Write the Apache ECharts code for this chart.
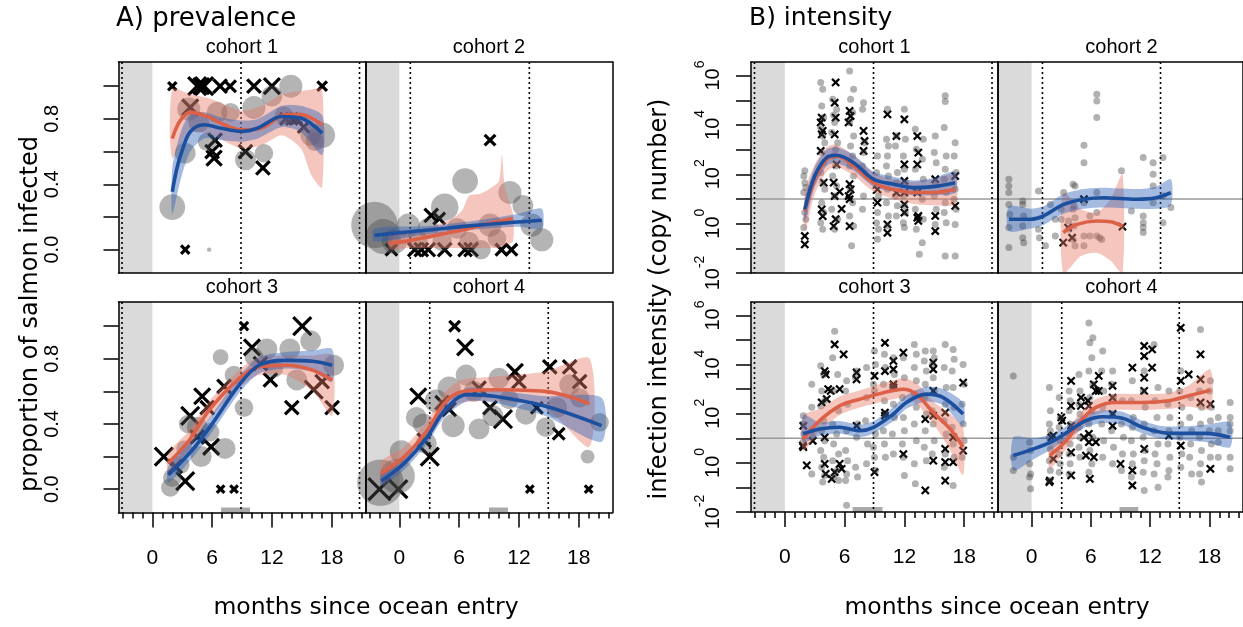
<!DOCTYPE html>
<html><head><meta charset="utf-8">
<script src="https://cdn.jsdelivr.net/npm/echarts@6/dist/echarts.min.js"></script>
<style>html,body{margin:0;padding:0;background:#fff}#c{width:1243px;height:627px}</style>
</head><body><div id="c"></div>
<script>
// ---------------- DATA ----------------
const xMajorTicks = [0, 6, 12, 18];
const xMinorTicks = [-3,-2,-1,0,1,2,3,4,5,6,7,8,9,10,11,12,13,14,15,16,17,18,19,20,21];
const prevTicks = [0, 0.2, 0.4, 0.6, 0.8, 1.0];
const prevTickLabels = [0, 0.4, 0.8];
const intTicks = [-2,-1,0,1,2,3,4,5,6];          // log10 copy number
const intTickLabels = [-2, 0, 2, 4, 6];
const intRefLine = 1;                              // log10 reference line (10^1)

// vertical dotted lines (months) and sampling bars (months)
const c1Vlines = [-3.05, 8.9, 20.8];
const c2Vlines = [1.1, 13.05];
const c3Vlines = [-3.05, 8.9, 20.8];
const c4Vlines = [3.05, 14.95];
const prevC3Bar = [6.9, 9.8];
const prevC4Bar = [9.0, 10.9];
const intC3Bar = [6.8, 9.8];
const intC4Bar = [8.9, 10.8];

// ---- A) prevalence: [month, proportion, n]
const prevC1Bubbles = [[2.0,0.26,21],[13.9,1.0,17],[12.0,0.94,14],[10.2,0.87,17],[3.65,0.86,17],[6.5,0.84,14],[7.85,0.84,11],[4.65,0.78,14],[3.3,0.59,14],[5.5,0.66,11],[9.35,0.55,14],[11.2,0.59,11],[13.2,0.82,11],[15.9,0.70,14],[17.05,0.70,21],[16.3,0.66,11],[5.7,0.0,0.6]];
const prevC1Crosses = [[2.0,1.0,3],[4.5,1.0,14],[5.2,1.0,14],[4.9,1.0,11],[6.8,1.0,8],[7.8,1.0,6],[10.2,1.0,8],[12.0,1.0,11],[17.05,1.0,4],[3.8,0.87,11],[6.3,0.67,8],[6.0,0.6,8],[6.2,0.56,10],[9.35,0.6,8],[11.1,0.5,8],[13.4,0.8,6],[14.0,0.8,6],[14.5,0.8,5],[15.2,0.75,6],[3.3,0.0,3]];
const prevC1Red = [[2.0,0.68],[2.8,0.79],[3.8,0.84],[5.5,0.815],[7,0.77],[8.9,0.733],[11,0.745],[13.4,0.826],[14.9,0.826],[17.05,0.764]];
const prevC1RedBand = [[2.0,0.56,0.98],[3.8,0.72,0.95],[6,0.7,0.92],[8.9,0.62,0.85],[11,0.64,0.88],[13,0.7,0.95],[14.9,0.62,0.97],[16,0.45,0.98],[17.05,0.38,0.98]];
const prevC1Blue = [[2.0,0.354],[2.4,0.48],[2.85,0.58],[3.8,0.72],[5.2,0.764],[6.8,0.744],[8.9,0.723],[10.6,0.744],[13,0.815],[14.9,0.805],[17.05,0.713]];
const prevC1BlueBand = [[2.0,0.22,0.5],[2.85,0.43,0.72],[3.8,0.6,0.83],[5.2,0.68,0.84],[6.8,0.67,0.81],[8.9,0.66,0.79],[10.6,0.68,0.8],[13,0.75,0.88],[14.9,0.72,0.88],[17.05,0.58,0.82]];

const prevC2Bubbles = [[-2.5,0.15,69],[-1.6,0.08,39],[0.9,0.15,17],[4.55,0.26,24],[6.6,0.42,21],[9.1,0.15,17],[11.1,0.35,17],[12.4,0.27,14],[13.3,0.15,17],[14.3,0.06,17],[8.2,0.0,12],[5.8,0.13,14],[2.9,0.13,14],[4.3,0.05,12],[9.8,0.07,11],[-0.5,0.05,20],[1.8,0.06,14],[7.0,0.05,12]];
const prevC2Crosses = [[9.1,0.67,5],[3.2,0.21,8],[4.0,0.19,6],[-0.8,0.0,6],[1.55,0.0,8],[2.2,0.0,8],[2.9,0.0,8],[4.55,0.0,8],[6.6,0.0,8],[7.2,0.0,8],[10.25,0.0,6],[11.25,0.0,6]];
const prevC2Red = [[-1.0,0.037],[1,0.055],[2.9,0.078],[6.3,0.12],[9.0,0.16],[11.4,0.19]];
const prevC2RedBand = [[-1.0,0.005,0.09],[1,0.01,0.1],[3,0.01,0.14],[5,0.01,0.18],[6.3,0.01,0.24],[7,0.01,0.33],[8,0.01,0.34],[9,0.01,0.37],[10,0.01,0.42],[10.3,0.02,0.58],[10.6,0.03,0.38],[11.4,0.05,0.22]];
const prevC2Blue = [[-2.5,0.088],[2.9,0.12],[7.9,0.15],[14.3,0.18]];
const prevC2BlueBand = [[-2.5,0.05,0.13],[2.9,0.095,0.145],[7.9,0.125,0.18],[12,0.14,0.22],[14.3,0.13,0.25]];

const prevC3Bubbles = [[1.8,0.01,11],[2.0,0.07,11],[3.6,0.40,11],[4.5,0.38,14],[5.8,0.35,11],[7.3,0.25,14],[4.9,0.2,14],[6.85,0.81,8],[8.2,0.70,11],[9.2,0.50,11],[11.5,0.86,14],[13.8,0.86,14],[15.9,0.91,14],[18.2,0.76,14],[14.5,0.67,14],[12.2,0.74,11],[10.2,0.81,11],[2.8,0.15,11],[3.2,0.25,8]];
const prevC3Crosses = [[9.2,1.0,3],[15.05,1.0,14],[10.0,0.87,11],[10.85,0.77,8],[11.85,0.67,8],[7.2,0.63,8],[5.0,0.57,11],[3.8,0.45,14],[5.5,0.5,8],[5.9,0.26,11],[4.5,0.32,8],[1.15,0.2,14],[3.3,0.05,14],[2.3,0.14,8],[6.85,0.0,2.5],[8.2,0.0,2.5],[14.0,0.5,8],[16.2,0.61,14],[17.05,0.66,8],[18.05,0.5,8]];
const prevC3Red = [[1.6,0.16],[3.7,0.30],[5.7,0.485],[8.7,0.678],[10.7,0.75],[13.4,0.76],[16.1,0.73],[18.05,0.668]];
const prevC3RedBand = [[1.6,0.10,0.22],[3.7,0.25,0.36],[5.7,0.43,0.54],[8.7,0.62,0.73],[10.7,0.70,0.81],[13.4,0.70,0.82],[16.1,0.60,0.82],[18.05,0.45,0.82]];
const prevC3Blue = [[1.6,0.087],[4.0,0.24],[6.0,0.40],[8.7,0.638],[10.7,0.76],[13.4,0.79],[16.1,0.785],[18.05,0.76]];
const prevC3BlueBand = [[1.6,0.04,0.14],[4,0.19,0.30],[6,0.35,0.46],[8.7,0.59,0.69],[10.7,0.71,0.81],[13.4,0.74,0.84],[16.1,0.72,0.85],[18.05,0.66,0.86]];

const prevC4Bubbles = [[-1.9,0.04,69],[-0.2,0.08,39],[0.2,0.23,17],[2.4,0.40,14],[1.7,0.44,14],[3.7,0.54,17],[5.0,0.62,17],[6.7,0.70,14],[5.4,0.39,17],[8.0,0.37,14],[9.4,0.45,14],[10.0,0.68,14],[12.7,0.46,14],[14.7,0.38,12],[17.1,0.64,14],[18.1,0.56,12],[18.9,0.2,6],[20.1,0.41,11],[15.8,0.50,14],[2.7,0.28,14],[7.5,0.6,14],[11.0,0.55,12]];
const prevC4Crosses = [[5.55,1.0,5],[6.6,0.87,11],[1.9,0.57,11],[3.05,0.2,14],[-2.0,0.0,21],[-0.1,0.0,14],[11.6,0.72,11],[12.0,0.66,8],[15.1,0.75,8],[17.1,0.75,8],[18.1,0.66,8],[10.4,0.43,14],[9.1,0.5,8],[16.0,0.34,6],[13.1,0.0,2.5],[19.0,0.0,2.5],[13.8,0.5,6],[4.3,0.53,8],[5.0,0.49,8],[8.0,0.62,8],[2.5,0.3,8]];
const prevC4Red = [[-1.8,0.098],[0.5,0.2],[2.8,0.36],[4.5,0.525],[6.2,0.597],[9.5,0.61],[14.6,0.60],[19.1,0.525]];
const prevC4RedBand = [[-1.8,0.03,0.17],[0.5,0.14,0.26],[2.8,0.30,0.42],[4.5,0.46,0.59],[6.2,0.53,0.67],[9.5,0.54,0.69],[14.6,0.50,0.72],[19.1,0.26,0.80]];
const prevC4Blue = [[-1.8,0.05],[0.5,0.16],[2.8,0.32],[4.5,0.48],[6.8,0.58],[9.5,0.57],[14.6,0.51],[20.3,0.39]];
const prevC4BlueBand = [[-1.8,0.02,0.09],[0.5,0.12,0.2],[2.8,0.28,0.36],[4.5,0.44,0.52],[6.8,0.54,0.62],[9.5,0.53,0.61],[14.6,0.45,0.57],[20.3,0.29,0.56]];

// ---- B) intensity: [month, log10(copy number)]
const intC1Dots = [[2.0,2.14],[1.9,1.93],[2.0,1.66],[2.1,1.46],[1.9,1.26],[2.0,0.45],[2.1,0.18],[1.9,-0.16],
[3.6,5.72],[3.8,5.45],[3.7,4.77],[3.9,4.3],[3.6,3.9],[3.8,3.55],[4.0,3.28],[3.7,2.88],[3.9,2.47],[3.6,2.07],[3.8,1.66],[4.0,1.39],[3.7,0.85],[3.9,0.45],[3.6,0.04],[3.8,-0.23],
[4.8,5.04],[5.2,4.64],[5.0,4.1],[4.7,3.69],[5.3,3.28],[4.9,2.74],[5.1,2.34],[4.8,1.93],[5.2,1.53],[5.0,1.12],[4.7,0.58],[5.3,0.18],[5.0,-0.23],[4.9,4.4],[5.1,3.0],
[6.5,6.19],[6.9,5.45],[6.6,5.04],[6.8,4.5],[6.5,4.1],[6.9,3.55],[6.6,3.15],[6.8,2.74],[6.5,2.34],[6.9,1.93],[6.6,1.39],[6.8,0.85],[6.5,0.31],[6.9,-0.1],[6.7,-0.9],
[7.9,4.9],[7.8,4.64],[8.0,3.28],[7.9,2.88],[7.8,2.34],[8.0,2.07],[7.9,1.12],[7.8,0.58],
[9.3,2.74],[9.2,2.07],[9.4,1.12],[9.3,0.45],[9.2,0.04],[9.4,-0.23],[9.3,-0.63],
[10.3,4.64],[10.2,3.42],[10.4,3.15],[10.3,2.74],[10.2,2.34],[10.4,1.93],[10.3,1.39],[10.2,0.85],[10.4,0.31],[10.3,-0.1],
[11.2,3.55],[11.1,3.15],[11.3,2.07],[11.2,1.66],[11.1,1.12],[11.3,0.72],[11.2,0.31],
[12.0,4.64],[12.1,3.42],[11.9,2.74],[12.0,2.2],[12.1,1.66],[11.9,1.12],[12.0,0.72],[12.1,0.45],[11.9,0.04],[12.0,-0.16],
[13.1,3.82],[13.9,3.42],[13.2,3.01],[13.8,2.61],[13.1,2.2],[13.9,1.8],[13.2,1.39],[13.8,0.99],[13.1,0.58],[13.9,0.18],[13.2,-0.23],[13.8,-0.77],[13.5,-1.24],
[15.1,3.55],[15.0,2.88],[15.2,2.47],[15.1,1.66],[15.0,1.12],[15.2,0.58],[15.1,-0.03],
[16.1,5.18],[16.1,4.95],[16.0,3.9],[16.2,2.74],[16.1,2.2],[16.0,1.8],[16.2,1.26],[16.1,0.85],[16.0,0.45],[16.2,0.04],[16.1,-1.31],
[17.1,3.28],[17.0,2.74],[17.2,2.07],[17.1,1.39],[17.0,0.99],[17.2,0.58],[17.1,-0.03],[17.1,-1.31]];
const intC1Crosses = [[2.0,-0.5],[2.0,-0.84],[3.7,4.3],[3.6,4.1],[3.8,3.76],[3.7,3.62],[3.6,2.95],[3.9,1.66],[3.7,0.58],[3.8,0.3],
[5.1,5.72],[5.0,4.9],[5.1,4.3],[5.0,3.62],[5.2,2.4],[4.9,1.66],[5.0,1.12],[5.1,0.18],[4.9,-0.1],[5.5,1.3],[5.7,0.6],
[6.5,4.57],[6.6,4.36],[6.4,4.1],[6.5,1.6],[6.6,1.39],[6.4,1.12],[6.5,0.99],[6.5,-0.1],[7.9,3.76],[8.0,3.35],[7.9,2.95],
[9.3,1.39],[9.3,0.85],[10.3,4.43],[10.3,-0.03],[10.3,-0.37],[11.2,3.55],[11.2,1.26],
[12.0,4.23],[12.0,2.4],[12.0,1.73],[12.0,1.26],[12.0,0.78],[12.0,0.45],
[13.3,3.55],[13.4,2.88],[13.3,2.4],[13.3,1.26],[13.4,0.31],[13.3,0.24],[13.4,0.11],[15.1,1.8],[15.1,0.31],[15.1,-0.3],[17.1,1.93],[17.1,0.72]];
const intC1Red = [[2.0,0.51],[3.0,1.8],[4.2,2.6],[5.2,2.74],[6.9,2.34],[8.9,1.66],[10.9,1.39],[12.9,1.26],[14.9,1.26],[17.1,1.39]];
const intC1RedBand = [[2.0,-0.3,1.3],[3.0,1.2,2.4],[4.2,2.1,3.1],[5.2,2.3,3.2],[6.9,1.95,2.75],[8.9,1.3,2.05],[10.9,1.0,1.8],[12.9,0.8,1.7],[14.9,0.75,1.8],[17.1,0.8,2.0]];
const intC1Blue = [[2.0,0.58],[3.0,1.93],[4.2,2.68],[5.2,2.77],[6.9,2.47],[8.9,1.8],[10.9,1.6],[12.9,1.46],[14.9,1.5],[17.1,1.66]];
const intC1BlueBand = [[2.0,0.1,1.0],[3.0,1.5,2.3],[4.2,2.35,3.0],[5.2,2.45,3.1],[6.9,2.15,2.8],[8.9,1.5,2.1],[10.9,1.3,1.9],[12.9,1.15,1.75],[14.9,1.15,1.85],[17.1,1.25,2.1]];

const intC2Dots = [[-2.3,1.8],[-2.3,1.53],[-2.3,1.26],[-2.3,0.78],[-2.2,0.38],[-2.3,-0.16],[-2.3,-0.97],
[-0.9,0.92],[-0.9,0.78],[-0.8,0.31],[-0.9,-0.1],[-0.9,-0.57],[-0.8,-0.77],
[0.7,1.32],[0.7,-0.23],[0.8,-0.57],[1.4,-0.9],[1.9,0.78],[2.4,0.18],[2.4,-0.5],[3.0,0.58],[3.0,0.18],[3.25,1.26],[3.75,0.11],[3.75,-0.23],
[4.2,1.6],[4.4,1.53],[4.3,0.72],[4.2,0.58],[4.4,0.24],[4.3,-0.1],[4.2,-0.64],[4.4,-0.9],
[5.3,3.18],[5.3,2.47],[5.3,0.85],[5.3,-0.5],[5.3,-0.9],[5.9,0.31],[5.9,-0.5],
[6.6,5.24],[6.6,4.97],[6.6,4.3],[6.6,1.26],[6.6,0.45],[6.6,-0.5],[6.9,-0.57],[7.1,-0.64],
[9.1,2.14],[10.1,0.51],[11.3,2.68],[11.3,0.31],[11.3,0.04],[11.3,-0.16],[11.3,-0.36],
[12.3,2.47],[12.3,2.0],[12.3,1.53],[12.3,0.85],[13.3,2.68],[13.3,1.12],[13.3,0.04],[14.1,0.65]];
const intC2Crosses = [[3.2,-0.77],[3.7,-0.16],[4.1,-0.57],[5.3,0.99],[9.2,-0.12]];
const intC2Red = [[3.2,-0.36],[4.6,-0.03],[6.6,0.11],[8.0,0.08],[9.2,-0.1]];
const intC2RedBand = [[3.2,-2.0,1.26],[5.0,-1.31,0.58],[6.6,-1.18,0.45],[8.0,-1.5,1.0],[9.2,-2.0,2.0]];
const intC2Blue = [[-2.3,0.18],[-0.1,0.18],[1.2,0.31],[3.25,0.78],[5.3,0.99],[7.3,1.05],[10.6,0.99],[12.6,1.05],[14.1,1.26]];
const intC2BlueBand = [[-2.3,-0.3,0.7],[-0.1,-0.2,0.6],[1.2,-0.05,0.7],[3.25,0.4,1.2],[5.3,0.6,1.4],[7.3,0.65,1.45],[10.6,0.6,1.4],[12.6,0.6,1.5],[14.1,0.75,1.8]];

const intC3Dots = [[1.85,1.92],[1.85,1.58],[1.9,1.18],[1.8,0.84],
[2.7,3.2],[2.7,2.26],[2.7,1.31],[2.8,1.04],[2.7,-0.45],
[3.6,3.95],[3.9,3.6],[3.7,2.93],[4.0,2.53],[3.6,2.32],[3.9,1.72],[3.7,1.31],[4.0,0.9],[3.6,0.5],[3.9,0.23],[3.7,-0.18],[4.0,-0.51],[3.8,-0.78],
[5.0,5.36],[4.8,4.28],[5.3,3.6],[4.9,2.93],[5.4,2.12],[4.8,1.58],[5.2,1.18],[4.9,0.77],[5.4,0.36],[4.8,0.09],[5.2,-0.31],[4.9,-0.58],[5.4,-0.72],
[6.2,3.34],[6.1,2.93],[6.3,2.39],[6.2,1.31],[6.1,0.5],[6.3,0.09],[6.2,-0.45],[6.1,-0.72],[6.2,-1.73],
[7.2,3.74],[7.1,3.47],[7.3,1.58],[7.2,1.04],[7.1,-0.18],[7.3,-0.58],
[8.2,3.88],[8.2,2.66],[8.1,1.72],[8.3,0.77],[8.2,-0.04],
[9.0,4.55],[9.1,4.01],[8.9,3.2],[9.0,2.93],[9.1,1.18],[8.9,0.64],[9.0,0.23],[9.1,-0.31],
[10.0,4.42],[10.1,3.88],[9.9,3.2],[10.0,2.53],[10.1,1.99],[9.9,1.31],[10.0,0.77],[10.1,0.23],
[10.9,4.28],[11.0,3.6],[10.8,3.07],[10.9,2.39],[11.0,1.85],[10.8,1.18],[10.9,0.36],
[11.9,4.28],[12.0,3.47],[11.8,2.66],[11.9,1.85],[12.0,1.31],[11.8,0.77],[11.9,0.23],[12.0,-0.51],
[13.0,4.82],[13.2,4.42],[13.0,3.88],[13.2,3.34],[13.0,2.8],[13.2,2.26],[13.0,1.58],[13.2,0.9],[13.0,-0.04],[13.1,-0.85],
[14.1,4.55],[14.0,4.15],[14.2,3.74],[14.1,3.2],[14.0,2.66],[14.2,1.99],[14.1,1.31],[14.0,0.64],[14.2,0.09],
[14.9,4.55],[15.0,4.28],[14.8,4.01],[14.9,3.47],[15.0,2.93],[14.8,2.12],[14.9,1.58],[15.0,0.9],[14.8,0.36],
[16.1,4.82],[16.0,3.88],[16.2,3.07],[16.1,2.39],[16.0,1.72],[16.2,1.18],[16.1,0.36],[16.0,-0.18],
[16.9,4.62],[17.0,4.22],[16.8,3.74],[16.9,3.07],[17.0,2.26],[16.8,1.45],[16.9,0.77],[17.0,0.23],[16.9,-0.92],
[17.9,4.01],[18.0,3.2],[17.8,2.39],[17.9,1.58],[18.0,0.9],[17.8,0.23]];
const intC3Crosses = [[1.85,1.51],[1.8,0.7],[1.85,0.64],[2.2,-0.1],[2.8,0.9],[3.7,2.46],[4.0,3.74],[4.1,3.6],[4.35,3.0],[4.2,2.6],[4.6,2.93],[5.0,4.82],[5.5,3.0],[4.0,1.04],[4.0,-0.04],[4.1,-0.45],[4.7,-0.65],[5.0,-0.38],[5.5,-0.04],[5.7,-0.24],[5.9,4.42],[7.2,3.68],[7.2,3.4],[7.2,1.51],[9.0,3.54],[9.0,-0.38],[10.05,4.89],[10.05,3.74],[10.05,2.05],[10.05,1.92],[10.9,4.15],[10.9,3.81],[10.9,3.2],[10.9,3.07],[11.9,4.49],[11.9,0.36],[14.1,-1.12],[14.1,1.78],[14.9,4.08],[14.9,3.81],[14.9,2.93],[14.9,1.92],[14.9,0.09],[16.1,2.05],[16.1,0.57],[16.1,0.03],[16.1,-0.72],[16.9,1.04],[16.9,0.03],[17.9,3.27],[17.9,0.5]];
const intC3Red = [[1.85,0.97],[3.5,1.72],[5.5,2.32],[7.5,2.59],[9.9,2.86],[11.9,3.0],[13.2,2.8],[14.9,2.05],[16.6,1.38],[17.9,0.64]];
const intC3RedBand = [[1.85,0.5,1.92],[3.5,1.3,2.2],[5.5,1.95,2.7],[7.5,2.25,2.95],[9.9,2.5,3.25],[11.9,2.65,3.45],[13.2,2.4,3.25],[14.9,1.6,2.5],[16.6,0.5,2.0],[17.9,-0.5,1.4]];
const intC3Blue = [[1.85,1.18],[3.5,1.38],[5.5,1.45],[7.5,1.31],[8.9,1.45],[10.9,1.99],[12.2,2.46],[14.2,2.8],[15.9,2.66],[17.9,1.99]];
const intC3BlueBand = [[1.85,0.85,1.95],[3.5,1.1,1.65],[5.5,1.2,1.7],[7.5,1.05,1.55],[8.9,1.2,1.7],[10.9,1.7,2.28],[12.2,2.2,2.75],[14.2,2.5,3.1],[15.9,2.35,3.0],[17.9,1.5,2.45]];

const intC4Dots = [[-1.85,3.54],[-1.85,0.23],[-1.85,-0.31],
[-0.2,0.84],[-0.1,0.5],[-0.2,-0.04],[-0.1,-0.45],[-0.2,-0.58],[-0.1,-1.05],
[1.8,3.07],[1.9,2.12],[1.8,1.58],[1.9,1.31],[1.8,1.04],[1.9,0.57],[1.8,0.09],[1.9,-0.31],[1.8,-0.72],
[2.8,2.66],[2.9,1.85],[2.8,1.45],[2.9,0.9],[2.8,0.36],[2.9,-0.04],[2.8,-0.38],
[3.8,2.93],[3.9,2.53],[3.8,2.12],[3.9,1.58],[3.8,1.18],[3.9,0.77],[3.8,0.36],[3.9,-0.04],[3.8,-0.45],
[4.8,3.6],[4.9,2.93],[4.8,2.39],[4.9,1.99],[4.8,1.45],[4.9,1.04],[4.8,0.64],[4.9,0.23],
[5.8,5.7],[6.2,5.09],[5.9,4.89],[6.1,4.28],[5.8,3.74],[6.2,3.2],[5.9,2.66],[6.1,2.12],[5.8,1.58],[6.2,1.04],[5.9,0.5],[6.1,-0.04],[5.8,-0.38],
[7.2,4.55],[7.1,3.74],[7.3,2.93],[7.2,2.26],[7.1,1.58],[7.3,0.9],[7.2,0.23],
[8.2,3.74],[8.1,3.2],[8.3,2.66],[8.2,1.99],[8.1,1.31],[8.3,0.64],[8.2,-0.04],
[9.2,2.53],[9.1,1.58],[9.3,1.04],[9.2,0.36],[9.1,-0.31],
[10.2,3.34],[10.1,2.53],[10.3,1.85],[10.2,1.45],[10.1,0.9],[10.3,0.36],[10.2,-0.04],[10.1,-0.58],
[11.4,3.74],[11.3,2.93],[11.5,2.26],[11.4,1.58],[11.3,1.04],[11.5,0.5],[11.4,0.09],[11.3,-0.38],[11.4,-1.12],
[12.4,4.82],[12.8,3.07],[12.5,2.53],[12.7,1.85],[12.4,1.31],[12.8,0.77],[12.5,0.36],[12.7,-0.04],[12.4,-0.45],[12.8,-0.99],
[13.9,2.93],[13.8,2.39],[14.0,1.85],[13.9,1.31],[13.8,0.77],[14.0,0.23],[13.9,-0.31],[13.8,-0.58],
[15.1,3.74],[15.0,2.93],[15.2,2.26],[15.1,1.58],[15.0,1.04],[15.2,0.36],[15.1,-0.18],
[16.1,2.66],[16.0,1.85],[16.2,1.31],[16.1,0.77],[16.0,0.23],[16.2,-0.45],
[17.1,5.43],[17.0,2.93],[17.2,2.26],[17.1,1.58],[17.0,1.04],[17.2,0.5],[17.1,-0.04],[17.0,-0.45],[17.2,-0.78],
[18.1,3.34],[18.0,2.93],[18.2,2.26],[18.1,1.72],[18.0,1.31],[18.2,0.77],[18.1,0.23],
[18.9,1.85],[18.9,1.31],[18.9,0.84],[18.9,0.23],
[20.1,2.46],[20.1,1.85],[20.1,1.58],[20.1,1.31],[20.1,0.23],[20.1,-0.24]];
const intC4Crosses = [[1.85,-0.72],[1.8,-0.78],[2.0,1.04],[2.2,1.11],[2.2,0.16],[3.0,1.85],[3.1,1.72],[4.0,3.34],[4.0,2.32],[4.0,1.51],[4.0,0.43],[4.0,-0.51],[5.0,2.66],[5.0,2.32],[5.3,1.04],[5.5,0.3],[5.7,2.53],[5.8,2.32],[5.8,1.18],[5.8,0.84],[5.9,-0.65],[6.3,3.2],[6.5,2.93],[6.5,0.84],[6.8,3.54],[6.8,2.93],[6.3,0.23],[8.2,3.14],[8.2,2.66],[8.2,1.99],[8.2,1.51],[9.0,-0.04],[10.2,3.88],[10.2,-0.31],[10.2,-0.92],[11.4,4.76],[11.4,4.35],[11.4,3.47],[11.4,2.93],[11.4,0.57],[12.2,4.62],[12.2,3.88],[13.9,1.11],[15.1,5.5],[15.1,3.34],[15.1,0.7],[15.9,3.6],[17.1,4.42],[17.1,3.4],[17.1,2.46],[18.1,2.39],[18.1,-0.24]];
const intC4Red = [[1.85,0.3],[3.5,0.9],[4.85,1.65],[6.5,2.26],[8.5,2.46],[11.2,2.46],[13.9,2.53],[15.9,2.73],[18.1,2.96]];
const intC4RedBand = [[1.85,-0.24,0.77],[3.5,0.55,1.3],[4.85,1.3,2.0],[6.5,1.95,2.6],[8.5,2.15,2.8],[11.2,2.15,2.8],[13.9,2.2,2.85],[15.9,2.3,3.15],[18.1,2.2,3.8]];
const intC4Blue = [[-1.85,0.3],[0.2,0.57],[2.2,0.9],[3.85,1.31],[5.5,1.72],[7.2,1.88],[9.2,1.82],[11.2,1.45],[13.2,1.24],[15.2,1.2],[17.6,1.2],[20.1,1.04]];
const intC4BlueBand = [[-1.85,-0.31,1.04],[0.2,0.15,1.0],[2.2,0.6,1.2],[3.85,1.05,1.57],[5.5,1.45,1.98],[7.2,1.62,2.14],[9.2,1.55,2.08],[11.2,1.2,1.72],[13.2,0.98,1.5],[15.2,0.92,1.48],[17.6,0.85,1.55],[20.1,0.64,1.65]];

// ---------------- LAYOUT / STYLE ----------------
const X_MIN = -3.4, X_MAX = 21.4;
const P_MIN = -0.143, P_MAX = 1.148;
const I_MIN = -2, I_MAX = 6.55;
const PW = 247;
const RED = '#dd6148', BLUE = '#1d4f9f';
const RED_BAND = 'rgba(232,120,100,0.42)', BLUE_BAND = 'rgba(40,92,182,0.42)';
const TICK_FONT = '"Liberation Sans", Arial, sans-serif';
const TITLE_FONT = '"DejaVu Sans", sans-serif';

const panels = [
  {name:'cohort 1', kind:'prev', left:118.5, top:62, h:211, yT:true, xT:false, vl:c1Vlines, bar:null, bub:prevC1Bubbles, cr:prevC1Crosses, red:prevC1Red, rb:prevC1RedBand, blue:prevC1Blue, bb:prevC1BlueBand},
  {name:'cohort 2', kind:'prev', left:365.5, top:62, h:211, yT:false, xT:false, vl:c2Vlines, bar:null, bub:prevC2Bubbles, cr:prevC2Crosses, red:prevC2Red, rb:prevC2RedBand, blue:prevC2Blue, bb:prevC2BlueBand},
  {name:'cohort 3', kind:'prev', left:118.5, top:302, h:210.5, yT:true, xT:true, vl:c3Vlines, bar:prevC3Bar, bub:prevC3Bubbles, cr:prevC3Crosses, red:prevC3Red, rb:prevC3RedBand, blue:prevC3Blue, bb:prevC3BlueBand},
  {name:'cohort 4', kind:'prev', left:365.5, top:302, h:210.5, yT:false, xT:true, vl:c4Vlines, bar:prevC4Bar, bub:prevC4Bubbles, cr:prevC4Crosses, red:prevC4Red, rb:prevC4RedBand, blue:prevC4Blue, bb:prevC4BlueBand},
  {name:'cohort 1', kind:'int', left:751, top:62, h:211, yT:true, xT:false, vl:c1Vlines, bar:null, bub:intC1Dots, cr:intC1Crosses, red:intC1Red, rb:intC1RedBand, blue:intC1Blue, bb:intC1BlueBand},
  {name:'cohort 2', kind:'int', left:998, top:62, h:211, yT:false, xT:false, vl:c2Vlines, bar:null, bub:intC2Dots, cr:intC2Crosses, red:intC2Red, rb:intC2RedBand, blue:intC2Blue, bb:intC2BlueBand},
  {name:'cohort 3', kind:'int', left:751, top:302, h:210, yT:true, xT:true, vl:c3Vlines, bar:intC3Bar, bub:intC3Dots, cr:intC3Crosses, red:intC3Red, rb:intC3RedBand, blue:intC3Blue, bb:intC3BlueBand},
  {name:'cohort 4', kind:'int', left:998, top:302, h:210, yT:false, xT:true, vl:c4Vlines, bar:intC4Bar, bub:intC4Dots, cr:intC4Crosses, red:intC4Red, rb:intC4RedBand, blue:intC4Blue, bb:intC4BlueBand}
];

const grid = [], xAxis = [], yAxis = [], series = [], graphic = [];
const lineBlack = {color:'#000', width:1.5};

panels.forEach((p, i) => {
  const prev = p.kind === 'prev';
  const yMin = prev ? P_MIN : I_MIN, yMax = prev ? P_MAX : I_MAX;
  grid.push({left:p.left, top:p.top, width:PW, height:p.h, containLabel:false});
  const xi = xAxis.length, yi = yAxis.length;
  xAxis.push({type:'value', gridIndex:i, min:X_MIN, max:X_MAX, position:'bottom', z:6,
    splitLine:{show:false}, axisLine:{show:true, onZero:false, lineStyle:lineBlack},
    axisTick:{show:p.xT, customValues:xMajorTicks, length:15, lineStyle:lineBlack},
    axisLabel:{show:p.xT, customValues:xMajorTicks, margin:35, fontSize:21, color:'#000', fontFamily:TICK_FONT}});
  xAxis.push({type:'value', gridIndex:i, min:X_MIN, max:X_MAX, position:'bottom', z:6,
    splitLine:{show:false}, axisLine:{show:false, onZero:false},
    axisTick:{show:p.xT, customValues:xMinorTicks, length:6, lineStyle:lineBlack},
    axisLabel:{show:false}});
  xAxis.push({type:'value', gridIndex:i, min:X_MIN, max:X_MAX, position:'top', z:6,
    splitLine:{show:false}, axisLine:{show:true, onZero:false, lineStyle:lineBlack},
    axisTick:{show:false}, axisLabel:{show:false}});
  const yLab = prev
    ? {show:p.yT, customValues:prevTickLabels, rotate:90, margin:56, fontSize:20, color:'#000', fontFamily:TICK_FONT, formatter:v=>Number(v).toFixed(1)}
    : {show:p.yT, customValues:intTickLabels, rotate:90, margin:28, color:'#000', formatter:v=>'{b|10}{s|'+Math.round(v)+'}',
       rich:{b:{fontSize:20, fontFamily:TICK_FONT, color:'#000', lineHeight:30, verticalAlign:'bottom'},
             s:{fontSize:14, fontFamily:TICK_FONT, color:'#000', lineHeight:14, verticalAlign:'top'}}};
  yAxis.push({type:'value', gridIndex:i, min:yMin, max:yMax, position:'left', z:6,
    splitLine:{show:false}, axisLine:{show:true, onZero:false, lineStyle:lineBlack},
    axisTick:{show:p.yT, customValues: prev ? prevTicks : intTicks, length:15, lineStyle:lineBlack},
    axisLabel:yLab});
  yAxis.push({type:'value', gridIndex:i, min:yMin, max:yMax, position:'right', z:6,
    splitLine:{show:false}, axisLine:{show:true, onZero:false, lineStyle:lineBlack},
    axisTick:{show:false}, axisLabel:{show:false}});

  const ax = {xAxisIndex:xi, yAxisIndex:yi};
  // background: shade, dotted lines, reference line, sampling bar
  series.push(Object.assign({type:'custom', silent:true, z:1, data:[[0, yMin]],
    renderItem:(params, api) => {
      const cs = params.coordSys;
      const kids = [];
      const x0 = api.coord([0, yMin])[0];
      kids.push({type:'rect', shape:{x:cs.x, y:cs.y, width:x0-cs.x, height:cs.height}, style:{fill:'#dadada'}});
      if (!prev) {
        const yy = api.coord([0, intRefLine])[1];
        kids.push({type:'line', shape:{x1:cs.x, y1:yy, x2:cs.x+cs.width, y2:yy}, style:{stroke:'#9a9a9a', lineWidth:1.5}});
      }
      if (p.bar) {
        const a = api.coord([p.bar[0], yMin])[0], b = api.coord([p.bar[1], yMin])[0];
        kids.push({type:'rect', shape:{x:a, y:cs.y+cs.height-5, width:b-a, height:5}, style:{fill:'#a9a9a9'}});
      }
      p.vl.forEach(v => {
        const xx = api.coord([v, yMin])[0];
        kids.push({type:'line', shape:{x1:xx, y1:cs.y, x2:xx, y2:cs.y+cs.height}, style:{stroke:'#000', lineWidth:1.6, lineDash:[2,3]}});
      });
      return {type:'group', children:kids};
    }}, ax));
  // points
  if (prev) {
    series.push(Object.assign({type:'scatter', z:2, clip:true, silent:true, data:p.bub,
      symbolSize: v => 5.6*Math.sqrt(v[2]), itemStyle:{color:'rgba(75,75,75,0.52)'}}, ax));
  } else {
    series.push(Object.assign({type:'scatter', z:2, clip:true, silent:true, data:p.bub,
      symbolSize: 7, itemStyle:{color:'rgba(60,60,60,0.5)'}}, ax));
  }
  series.push(Object.assign({type:'custom', z:2, silent:true, data:p.cr,
    renderItem:(params, api) => {
      const c = api.coord([api.value(0), api.value(1)]);
      const h = prev ? 2.4*Math.sqrt(api.value(2)) : 3.6;
      const lw = prev ? 3.2 : 2.2;
      return {type:'group', children:[
        {type:'line', shape:{x1:c[0]-h, y1:c[1]-h, x2:c[0]+h, y2:c[1]+h}, style:{stroke:'#000', lineWidth:lw}},
        {type:'line', shape:{x1:c[0]-h, y1:c[1]+h, x2:c[0]+h, y2:c[1]-h}, style:{stroke:'#000', lineWidth:lw}}]};
    }}, ax));
  // bands
  [[p.rb, RED_BAND], [p.bb, BLUE_BAND]].forEach(([rows, col]) => {
    series.push(Object.assign({type:'custom', z:3, silent:true, data:[[rows[0][0], rows[0][1]]],
      renderItem:(params, api) => {
        const cs = params.coordSys;
        const up = rows.map(r => api.coord([r[0], r[2]]));
        const lo = rows.map(r => api.coord([r[0], r[1]])).reverse();
        return {type:'polygon', shape:{points:up.concat(lo), smooth:0.25}, style:{fill:col},
          clipPath:{type:'rect', shape:{x:cs.x, y:cs.y, width:cs.width, height:cs.height}}};
      }}, ax));
  });
  // fitted lines
  [[p.red, RED], [p.blue, BLUE]].forEach(([d, col]) => {
    series.push(Object.assign({type:'line', z:4, silent:true, data:d, smooth:0.35, showSymbol:false, symbol:'none',
      lineStyle:{color:col, width:3.6}}, ax));
  });
  graphic.push({type:'text', x:p.left + PW/2, y:p.top - 15, silent:true,
    style:{text:p.name, font:'20px ' + TICK_FONT, fill:'#000', textAlign:'center', textVerticalAlign:'middle', align:'center', verticalAlign:'middle'}});
});

graphic.push({type:'text', left:116, top:6, style:{text:'A) prevalence', font:'26px ' + TITLE_FONT, fill:'#000'}});
graphic.push({type:'text', left:749, top:6, style:{text:'B) intensity', font:'25px ' + TITLE_FONT, fill:'#000'}});
graphic.push({type:'text', x:366, y:608, style:{text:'months since ocean entry', font:'23.5px ' + TITLE_FONT, fill:'#000', textAlign:'center', textVerticalAlign:'middle', align:'center', verticalAlign:'middle'}});
graphic.push({type:'text', x:997, y:608, style:{text:'months since ocean entry', font:'23.5px ' + TITLE_FONT, fill:'#000', textAlign:'center', textVerticalAlign:'middle', align:'center', verticalAlign:'middle'}});
graphic.push({type:'text', x:31, y:314, rotation:Math.PI/2, style:{text:'proportion of salmon infected', font:'24px ' + TITLE_FONT, fill:'#000', textAlign:'center', textVerticalAlign:'middle', align:'center', verticalAlign:'middle'}});
graphic.push({type:'text', x:660, y:299, rotation:Math.PI/2, style:{text:'infection intensity (copy number)', font:'24px ' + TITLE_FONT, fill:'#000', textAlign:'center', textVerticalAlign:'middle', align:'center', verticalAlign:'middle'}});

const chart = echarts.init(document.getElementById('c'), null, {renderer:'canvas'});
chart.setOption({animation:false, backgroundColor:'#fff', grid, xAxis, yAxis, series, graphic});
</script></body></html>
